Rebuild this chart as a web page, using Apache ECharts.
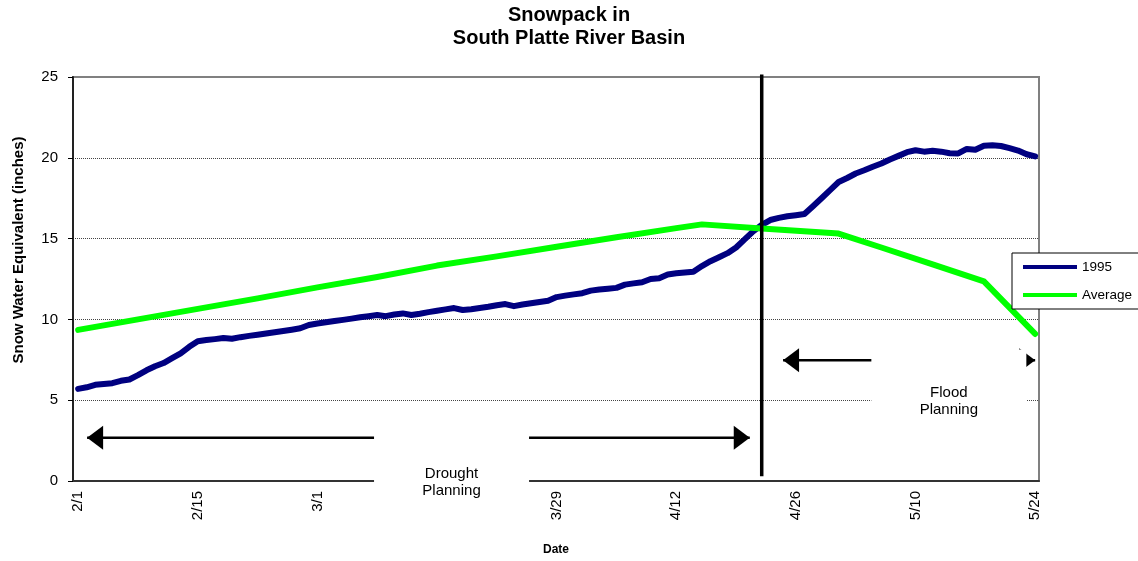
<!DOCTYPE html>
<html><head><meta charset="utf-8">
<script src="https://cdn.jsdelivr.net/npm/echarts@6/dist/echarts.min.js"></script>
<style>html,body{margin:0;padding:0;background:#fff}#c{width:1138px;height:561px}</style>
</head><body><div id="c"></div>
<script>
// Day offsets from 2/1/1995
const tickDays = [0, 14, 28, 42, 56, 70, 84, 98, 112];
const tickLabels = ['2/1', '2/15', '3/1', '3/15', '3/29', '4/12', '4/26', '5/10', '5/24'];

// 1995 snow water equivalent, one value per day starting 2/1
const snow1995 = [
  5.70, 5.80, 5.95, 6.00, 6.05, 6.20, 6.28, 6.55, 6.85, 7.10,
  7.30, 7.60, 7.90, 8.30, 8.65, 8.72, 8.78, 8.85, 8.80, 8.90,
  8.98, 9.05, 9.13, 9.20, 9.28, 9.36, 9.45, 9.65, 9.75, 9.82,
  9.90, 9.97, 10.05, 10.13, 10.20, 10.27, 10.20, 10.30, 10.37, 10.27,
  10.35, 10.45, 10.53, 10.62, 10.70, 10.58, 10.63, 10.70, 10.78, 10.88,
  10.95, 10.82, 10.92, 11.00, 11.08, 11.15, 11.38, 11.47, 11.55, 11.62,
  11.78, 11.85, 11.90, 11.95, 12.15, 12.23, 12.30, 12.50, 12.55, 12.78,
  12.85, 12.90, 12.95, 13.30, 13.60, 13.85, 14.10, 14.45, 14.95, 15.45,
  15.85, 16.15, 16.28, 16.38, 16.45, 16.52, 17.00, 17.50, 18.00, 18.50,
  18.75, 19.03, 19.23, 19.45, 19.65, 19.90, 20.12, 20.35, 20.47, 20.38,
  20.43, 20.38, 20.28, 20.27, 20.55, 20.50, 20.75, 20.77, 20.73, 20.60,
  20.45, 20.22, 20.09
];

// Average snow water equivalent
const avgDays   = [0, 7, 14, 21, 28, 35, 42, 49, 56, 63, 70, 73, 80, 89, 94, 100, 106, 112];
const avgValues = [9.35, 10.0, 10.65, 11.3, 11.98, 12.62, 13.33, 13.9, 14.5, 15.08, 15.65, 15.88, 15.62, 15.31, 14.45, 13.4, 12.35, 9.1];

// Annotations (data space: day offset, inches)
const dividerLine = [[80, 0.3], [80, 25.15]];
const droughtArrow = [[1.05, 2.67], [78.6, 2.67]];
const floodArrow = [[82.5, 7.47], [112, 7.47]];
const droughtBox = [43.7, 0.6];
const floodBox = [101.9, 5.35];

const FONT = '"Liberation Sans", Arial, sans-serif';
const chart = echarts.init(document.getElementById('c'), null, {renderer: 'canvas'});

const headRight = 'path://M0,0 L16,12 L0,24 Z';
const headLeft = 'path://M16,0 L0,12 L16,24 Z';

const arrowHeads = [
  {value: droughtArrow[0], symbol: headLeft, symbolOffset: [8, 0]},
  {value: droughtArrow[1], symbol: headRight, symbolOffset: [-8, 0]},
  {value: floodArrow[0], symbol: headLeft, symbolOffset: [8, 0]},
  {value: floodArrow[1], symbol: headRight, symbolOffset: [-8, 0]}
];

chart.setOption({
  animation: false,
  backgroundColor: '#fff',
  textStyle: {fontFamily: FONT},
  title: {
    text: 'Snowpack in\nSouth Platte River Basin',
    left: 'center', top: 4, padding: 0,
    textStyle: {fontSize: 20, fontWeight: 'bold', lineHeight: 23, color: '#000', fontFamily: FONT}
  },
  legend: {
    orient: 'vertical', left: 1012, top: 253,
    padding: [7, 40, 7, 11],
    itemWidth: 54, itemHeight: 4, itemGap: 14,
    icon: 'rect',
    borderColor: '#000', borderWidth: 1, backgroundColor: '#fff',
    textStyle: {fontSize: 13.5, color: '#000', fontFamily: FONT},
    data: ['1995', 'Average']
  },
  grid: {
    left: 73, right: 99, top: 77, bottom: 73,
    show: true, borderColor: '#808080', borderWidth: 2, backgroundColor: 'transparent'
  },
  xAxis: {
    type: 'value', min: -0.6, max: 112.45,
    axisLine: {show: true, onZero: false, lineStyle: {color: '#333', width: 2}},
    axisTick: {show: false},
    splitLine: {show: false},
    axisLabel: {
      customValues: tickDays,
      formatter: function (v) {
        const i = tickDays.indexOf(Math.round(v));
        return i >= 0 ? tickLabels[i] : '';
      },
      rotate: 90, fontSize: 15, margin: 10, color: '#000', fontFamily: FONT
    },
    name: 'Date', nameLocation: 'middle', nameGap: 63,
    nameTextStyle: {fontWeight: 'bold', fontSize: 12, color: '#000', fontFamily: FONT}
  },
  yAxis: {
    type: 'value', min: 0, max: 25, interval: 5,
    axisLine: {show: true, onZero: false, lineStyle: {color: '#222', width: 2}},
    axisTick: {show: true, length: 5, lineStyle: {color: '#000', width: 1}},
    axisLabel: {fontSize: 15, margin: 15, color: '#000', fontFamily: FONT},
    splitLine: {show: true, showMinLine: false, showMaxLine: false,
      lineStyle: {type: 'dotted', color: '#444', width: 1}}
  },
  graphic: [{
    type: 'text', x: 19, y: 250, rotation: Math.PI / 2, z: 10,
    style: {text: 'Snow Water Equivalent (inches)', fontSize: 15, fontWeight: 'bold',
      fontFamily: FONT, fill: '#000', align: 'center', verticalAlign: 'middle'}
  }],
  series: [
    {
      name: '1995', type: 'line', z: 2,
      data: snow1995.map((v, i) => [i, v]),
      symbol: 'none', color: '#000080',
      lineStyle: {color: '#000080', width: 6, cap: 'round', join: 'round'}
    },
    {
      name: 'Average', type: 'line', z: 3,
      data: avgDays.map((d, i) => [d, avgValues[i]]),
      symbol: 'none', color: '#00FF00',
      lineStyle: {color: '#00FF00', width: 6, cap: 'round', join: 'round'}
    },
    {
      name: 'divider', type: 'line', z: 4, clip: false,
      data: dividerLine, symbol: 'none', silent: true,
      lineStyle: {color: '#000', width: 3.5}
    },
    {
      name: 'droughtArrow', type: 'line', z: 4, clip: false,
      data: droughtArrow, symbol: 'none', silent: true,
      lineStyle: {color: '#000', width: 2.5}
    },
    {
      name: 'floodArrow', type: 'line', z: 4, clip: false,
      data: floodArrow, symbol: 'none', silent: true,
      lineStyle: {color: '#000', width: 2.5}
    },
    {
      name: 'arrowHeads', type: 'scatter', z: 4, clip: false, silent: true,
      symbolSize: [16, 24], itemStyle: {color: '#000', opacity: 1},
      data: arrowHeads
    },
    {
      name: 'boxes', type: 'scatter', z: 6, clip: false, silent: true,
      symbol: 'rect', itemStyle: {color: '#fff', opacity: 1},
      label: {show: true, position: 'inside', color: '#000', opacity: 1, fontSize: 15, lineHeight: 17, fontFamily: FONT},
      data: [
        {value: droughtBox, symbolSize: [155, 120], label: {formatter: 'Drought\nPlanning', offset: [0, 11]}},
        {value: floodBox, symbolSize: [155, 90], label: {formatter: 'Flood\nPlanning', offset: [0, 7]}}
      ]
    }
  ]
});
</script>
</body></html>
